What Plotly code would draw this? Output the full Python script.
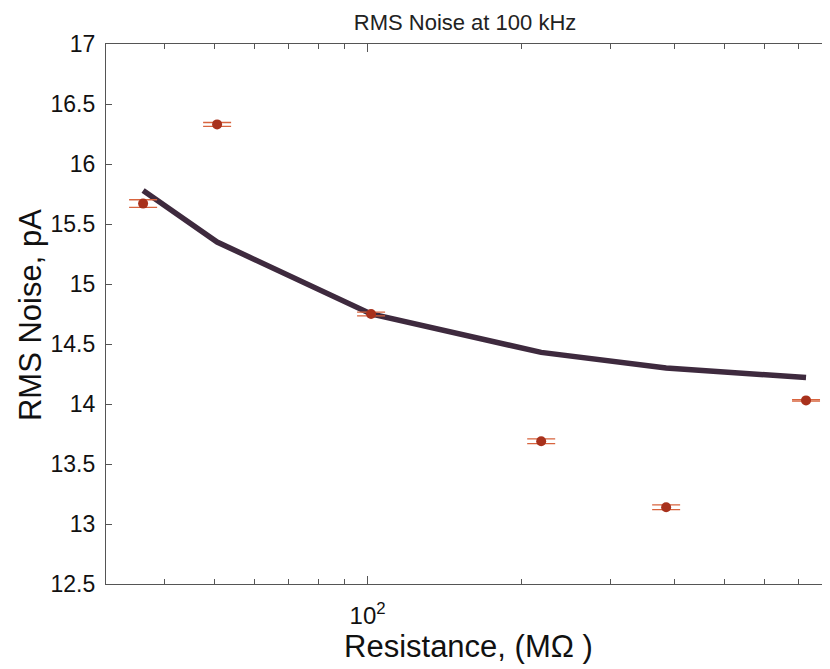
import numpy as np
import plotly.graph_objects as go

# Data
resistance = [36.3, 50.7, 101.6, 219, 385, 724]          # MΩ
noise_meas = [15.67, 16.33, 14.75, 13.69, 13.14, 14.03]  # pA
noise_err = [0.032, 0.016, 0.015, 0.02, 0.02, 0.006]
noise_model = [15.78, 15.35, 14.75, 14.43, 14.30, 14.22]

y_ticks = [12.5, 13, 13.5, 14, 14.5, 15, 15.5, 16, 16.5, 17]
y_ticklabels = ["12.5", "13", "13.5", "14", "14.5", "15", "15.5", "16", "16.5", "17"]
x_major = [100]
x_major_labels = ["10<sup>2</sup>"]
x_minor = [30, 40, 50, 60, 70, 80, 90, 200, 300, 400, 500, 600, 700, 800]

FONT = "Liberation Sans, Arial, sans-serif"

fig = go.Figure()
fig.add_trace(go.Scatter(
    x=resistance, y=noise_model, mode="lines",
    line=dict(color="#3e2a3e", width=5.5),
    showlegend=False, hoverinfo="skip"))
fig.add_trace(go.Scatter(
    x=resistance, y=noise_meas, mode="markers",
    marker=dict(color="#a8311c", size=10),
    error_y=dict(type="data", array=noise_err, visible=True,
                 color="#d8643e", thickness=1.3, width=14),
    showlegend=False))

fig.update_layout(
    width=822, height=661,
    margin=dict(l=98, r=0, t=36, b=85),
    paper_bgcolor="white", plot_bgcolor="white",
    font=dict(family=FONT, color="#111"),
    title=dict(text="RMS Noise at 100 kHz", x=0.556, xanchor="center",
               y=1 - 14 / 661, yanchor="middle", yref="container",
               font=dict(family=FONT, size=22, color="#222")),
    annotations=[
        dict(text="Resistance, (MΩ )", xref="paper", yref="paper", x=0.5, y=0,
             xanchor="center", yanchor="middle", yshift=-62, showarrow=False,
             font=dict(size=31, family=FONT, color="#111")),
        dict(text="RMS Noise, pA", xref="paper", yref="paper", x=0, y=0.498,
             xanchor="center", yanchor="middle", xshift=-76, textangle=-90, showarrow=False,
             font=dict(size=31, family=FONT, color="#111")),
    ],
)
fig.update_xaxes(
    type="log", range=[np.log10(30.7), np.log10(30.7) + 724 / 510],
    automargin=False,
    showgrid=False, zeroline=False,
    showline=True, linecolor="#555", linewidth=1.2, mirror="ticks",
    ticks="inside", ticklen=8, tickcolor="#555",
    tickvals=x_major, ticktext=x_major_labels, ticklabelstandoff=10,
    tickfont=dict(size=24, family=FONT, color="#111"),
    minor=dict(tickvals=x_minor, ticks="inside", ticklen=5, tickcolor="#555"),
)
fig.update_yaxes(
    range=[12.5, 17],
    automargin=False,
    showgrid=False, zeroline=False,
    showline=True, linecolor="#555", linewidth=1.2, mirror="ticks",
    ticks="inside", ticklen=6, tickcolor="#555",
    tickvals=y_ticks, ticktext=y_ticklabels, ticklabelstandoff=5,
    tickfont=dict(size=23, family=FONT, color="#111"),
)

fig.write_html("out.html")
